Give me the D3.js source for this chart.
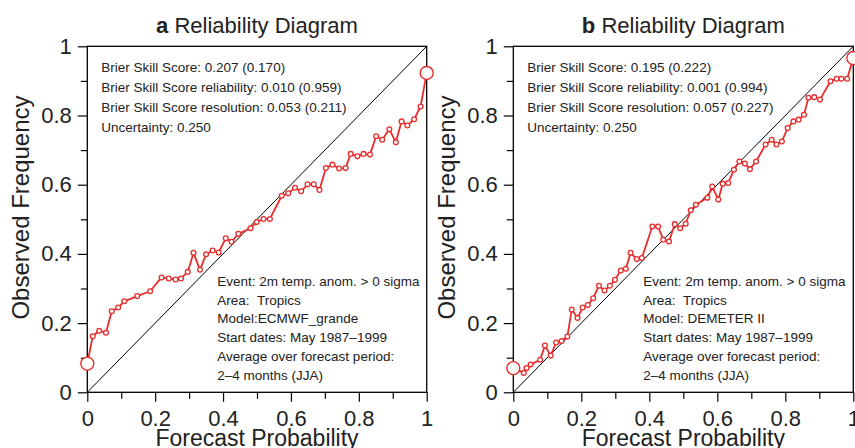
<!DOCTYPE html>
<html>
<head>
<meta charset="utf-8">
<script src="https://cdn.jsdelivr.net/npm/d3@7"></script>
<style>
  html, body { margin: 0; padding: 0; background: #fff; }
  svg { display: block; font-family: "Liberation Sans", Arial, Helvetica, sans-serif; }
</style>
</head>
<body>
<svg id="chart" width="855" height="448"></svg>
<script>
// ---- Data ----
const probA = [0, 0.016, 0.035, 0.055, 0.072, 0.091, 0.109, 0.147, 0.185, 0.219, 0.240, 0.260, 0.276, 0.296, 0.313, 0.332, 0.350, 0.369, 0.387, 0.408, 0.425, 0.445, 0.481, 0.499, 0.519, 0.538, 0.573, 0.592, 0.612, 0.630, 0.649, 0.667, 0.684, 0.703, 0.722, 0.742, 0.761, 0.776, 0.796, 0.814, 0.833, 0.851, 0.869, 0.890, 0.909, 0.926, 0.943, 0.963, 0.982, 1];
const freqA = [0.083, 0.162, 0.178, 0.172, 0.234, 0.245, 0.263, 0.278, 0.292, 0.332, 0.329, 0.326, 0.329, 0.348, 0.403, 0.354, 0.399, 0.410, 0.404, 0.445, 0.435, 0.458, 0.474, 0.492, 0.501, 0.501, 0.568, 0.575, 0.591, 0.581, 0.601, 0.601, 0.585, 0.648, 0.658, 0.647, 0.648, 0.689, 0.682, 0.689, 0.687, 0.740, 0.730, 0.760, 0.723, 0.783, 0.771, 0.789, 0.826, 0.923];

const probB = [0, 0.031, 0.039, 0.051, 0.079, 0.093, 0.110, 0.126, 0.142, 0.159, 0.172, 0.189, 0.204, 0.219, 0.235, 0.252, 0.268, 0.284, 0.299, 0.316, 0.331, 0.345, 0.363, 0.378, 0.409, 0.426, 0.441, 0.458, 0.475, 0.491, 0.507, 0.522, 0.537, 0.571, 0.585, 0.603, 0.616, 0.632, 0.649, 0.665, 0.681, 0.696, 0.714, 0.742, 0.760, 0.774, 0.790, 0.807, 0.824, 0.839, 0.855, 0.868, 0.885, 0.902, 0.933, 0.951, 0.965, 0.982, 1];
const freqB = [0.070, 0.056, 0.070, 0.080, 0.094, 0.135, 0.106, 0.144, 0.148, 0.161, 0.239, 0.215, 0.245, 0.252, 0.272, 0.308, 0.294, 0.308, 0.325, 0.352, 0.357, 0.403, 0.385, 0.388, 0.479, 0.479, 0.441, 0.436, 0.486, 0.474, 0.487, 0.526, 0.542, 0.562, 0.595, 0.557, 0.603, 0.605, 0.643, 0.667, 0.661, 0.645, 0.667, 0.716, 0.730, 0.716, 0.725, 0.764, 0.783, 0.788, 0.802, 0.851, 0.853, 0.846, 0.899, 0.906, 0.906, 0.906, 0.966];

const majorTicks = [0, 0.2, 0.4, 0.6, 0.8, 1];
const minorTicks = [0.1, 0.3, 0.5, 0.7, 0.9];
const diagonal = [0, 1];

const panelLetters = ["a", "b"];
const titleText = "Reliability Diagram";
const xLabel = "Forecast Probability";
const yLabel = "Observed Frequency";

const statsA = ["Brier Skill Score: 0.207 (0.170)", "Brier Skill Score reliability: 0.010 (0.959)", "Brier Skill Score resolution: 0.053 (0.211)", "Uncertainty: 0.250"];
const statsB = ["Brier Skill Score: 0.195 (0.222)", "Brier Skill Score reliability: 0.001 (0.994)", "Brier Skill Score resolution: 0.057 (0.227)", "Uncertainty: 0.250"];
const infoA = ["Event: 2m temp. anom. > 0 sigma", "Area:\u00a0\u00a0Tropics", "Model:ECMWF_grande", "Start dates: May 1987\u20131999", "Average over forecast period:", "2\u20134 months (JJA)"];
const infoB = ["Event: 2m temp. anom. > 0 sigma", "Area:\u00a0\u00a0Tropics", "Model: DEMETER II", "Start dates: May 1987\u20131999", "Average over forecast period:", "2\u20134 months (JJA)"];

// ---- Drawing ----
const svg = d3.select("#chart");
const RED = "#e62e2d";
const plotTop = 46.3, plotBottom = 392.3;

const panels = [
  { letter: panelLetters[0], left: 87.3, right: 426.7, prob: probA, freq: freqA, stats: statsA, info: infoA },
  { letter: panelLetters[1], left: 513.3, right: 853.3, prob: probB, freq: freqB, stats: statsB, info: infoB }
];

const fmt = d => (d === 0 ? "0" : d === 1 ? "1" : d3.format(".1f")(d));

panels.forEach(p => {
  const x = d3.scaleLinear().domain([0, 1]).range([p.left, p.right]);
  const y = d3.scaleLinear().domain([0, 1]).range([plotBottom, plotTop]);
  const g = svg.append("g");

  // minor ticks
  g.append("g").attr("transform", `translate(0,${plotBottom})`)
    .call(d3.axisBottom(x).tickValues(minorTicks).tickSize(6.5).tickFormat(""))
    .call(a => a.select(".domain").remove())
    .call(a => a.selectAll("line").attr("stroke", "#000").attr("stroke-width", 1.2));
  g.append("g").attr("transform", `translate(${p.left},0)`)
    .call(d3.axisLeft(y).tickValues(minorTicks).tickSize(6.5).tickFormat(""))
    .call(a => a.select(".domain").remove())
    .call(a => a.selectAll("line").attr("stroke", "#000").attr("stroke-width", 1.2));

  // major ticks + labels
  g.append("g").attr("transform", `translate(0,${plotBottom})`)
    .call(d3.axisBottom(x).tickValues(majorTicks).tickSize(9.5).tickPadding(9).tickFormat(fmt))
    .call(a => a.select(".domain").remove())
    .call(a => a.selectAll("line").attr("stroke", "#000").attr("stroke-width", 1.2))
    .call(a => a.selectAll("text").attr("font-size", 22).attr("fill", "#222")
      .attr("font-family", "Liberation Sans, Arial, sans-serif"));
  g.append("g").attr("transform", `translate(${p.left},0)`)
    .call(d3.axisLeft(y).tickValues(majorTicks).tickSize(9.5).tickPadding(6).tickFormat(fmt))
    .call(a => a.select(".domain").remove())
    .call(a => a.selectAll("line").attr("stroke", "#000").attr("stroke-width", 1.2))
    .call(a => a.selectAll("text").attr("font-size", 22).attr("fill", "#222")
      .attr("font-family", "Liberation Sans, Arial, sans-serif"));

  // diagonal
  g.append("line")
    .attr("x1", x(diagonal[0])).attr("y1", y(diagonal[0]))
    .attr("x2", x(diagonal[1])).attr("y2", y(diagonal[1]))
    .attr("stroke", "#000").attr("stroke-width", 1);

  // frame
  g.append("rect")
    .attr("x", p.left).attr("y", plotTop)
    .attr("width", p.right - p.left).attr("height", plotBottom - plotTop)
    .attr("fill", "none").attr("stroke", "#000").attr("stroke-width", 1.3);

  // stats text
  const st = g.append("text").attr("font-size", 13.5).attr("fill", "#222");
  p.stats.forEach((s, i) => {
    st.append("tspan").attr("x", p.left + 14).attr("y", plotTop + 25.4 + i * 20.1).text(s);
  });

  // info text
  const it = g.append("text").attr("font-size", 13.5).attr("fill", "#222");
  p.info.forEach((s, i) => {
    it.append("tspan").attr("x", p.left + 130).attr("y", 286 + i * 18.7).text(s);
  });

  // reliability curve
  const pts = p.prob.map((v, i) => [v, p.freq[i]]);
  g.append("path")
    .datum(pts)
    .attr("fill", "none").attr("stroke", RED).attr("stroke-width", 1.8)
    .attr("stroke-linejoin", "round")
    .attr("d", d3.line().x(d => x(d[0])).y(d => y(d[1])));
  g.selectAll("circle.pt").data(pts).enter().append("circle")
    .attr("class", "pt")
    .attr("cx", d => x(d[0])).attr("cy", d => y(d[1]))
    .attr("r", (d, i) => (i === 0 || i === pts.length - 1) ? 6.5 : 2.4)
    .attr("fill", "#fff").attr("stroke", RED)
    .attr("stroke-width", (d, i) => (i === 0 || i === pts.length - 1) ? 1.4 : 1.3);

  // title
  const cx = (p.left + p.right) / 2;
  const t = g.append("text").attr("x", cx).attr("y", 33.3).attr("text-anchor", "middle")
    .attr("font-size", 22).attr("fill", "#222");
  t.append("tspan").attr("font-weight", "bold").text(p.letter);
  t.append("tspan").text(" " + titleText);

  // axis labels
  g.append("text").attr("x", cx).attr("y", 446).attr("text-anchor", "middle")
    .attr("font-size", 23).attr("fill", "#222").text(xLabel);
  g.append("text")
    .attr("transform", `translate(${p.left - 58},207.5) rotate(-90)`)
    .attr("text-anchor", "middle")
    .attr("font-size", 24).attr("fill", "#222").text(yLabel);
});
</script>
</body>
</html>
